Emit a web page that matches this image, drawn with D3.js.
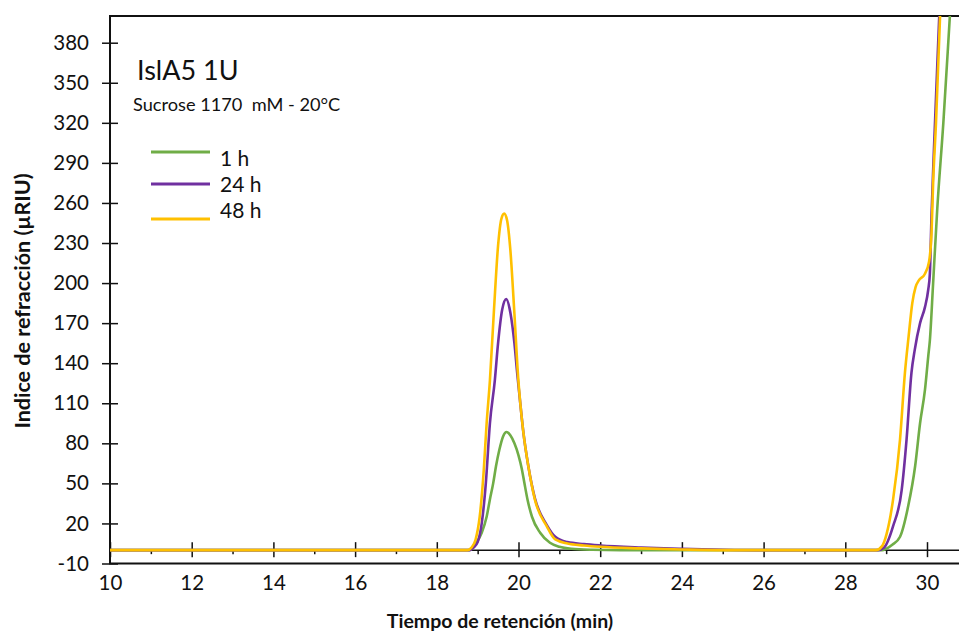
<!DOCTYPE html>
<html lang="es">
  <head>
    <meta charset="utf-8" />
    <title>IslA5 1U</title>
    <style>
      body {
        margin: 0;
        background: #fff;
      }
      svg text {
        font-family: Lato, "Open Sans", sans-serif;
        fill: #111;
      }
      .axis text {
        font-size: 20.5px;
      }
    </style>
    <script src="https://d3js.org/d3.v7.min.js"></script>
  </head>

  <body>
    <svg width="959" height="633"></svg>

    <script>
      // tick values
      var xMajor = [10, 12, 14, 16, 18, 20, 22, 24, 26, 28, 30];
      var xMinor = [11, 13, 15, 17, 19, 21, 23, 25, 27, 29];
      var yTicks = [-10, 20, 50, 80, 110, 140, 170, 200, 230, 260, 290, 320, 350, 380];

      // chromatogram points [retention time (min), signal (µRIU)]
      var green1h = [
        [10, 0], [18.8, 0], [18.97, 5.5], [19.1, 13], [19.22, 25], [19.3, 38],
        [19.38, 50], [19.45, 63], [19.53, 75], [19.62, 85], [19.71, 88.5],
        [19.8, 86], [19.9, 80], [20.0, 71], [20.08, 61], [20.14, 51],
        [20.22, 38], [20.33, 25], [20.53, 13], [20.77, 5.5], [21.0, 2.5],
        [21.3, 1], [21.8, 0.3], [22.5, 0], [28.9, 0], [29.0, 1], [29.15, 4],
        [29.34, 10], [29.54, 33], [29.71, 63], [29.83, 95], [29.95, 120],
        [30.03, 145], [30.07, 157], [30.15, 200], [30.25, 255], [30.4, 320],
        [30.56, 400], [30.7, 470]
      ];
      var purple24h = [
        [10, 0], [18.8, 0], [18.9, 2], [19.0, 6], [19.1, 20], [19.2, 50],
        [19.3, 95], [19.42, 127], [19.5, 155], [19.6, 180], [19.7, 188],
        [19.8, 178], [19.9, 155], [19.97, 132], [20.05, 108], [20.12, 88],
        [20.24, 63], [20.4, 39], [20.69, 19], [20.9, 10], [21.2, 6],
        [21.6, 4.5], [22, 3.5], [23, 2], [24, 1], [25, 0.3], [26, 0],
        [28.8, 0], [28.95, 2], [29.17, 18], [29.38, 45], [29.5, 83],
        [29.62, 133], [29.7, 150], [29.83, 170], [29.95, 182], [30.03, 195],
        [30.07, 207], [30.11, 250], [30.17, 300], [30.3, 400], [30.4, 480]
      ];
      var orange48h = [
        [10, 0], [18.75, 0], [18.85, 2], [18.95, 8], [19.05, 25], [19.15, 60],
        [19.22, 95], [19.3, 127], [19.4, 180], [19.5, 228], [19.58, 248],
        [19.65, 252], [19.72, 247], [19.8, 225], [19.9, 177], [19.99, 130],
        [20.05, 108], [20.12, 88], [20.24, 63], [20.4, 38], [20.69, 18],
        [20.9, 8], [21.2, 5], [21.6, 3.5], [22, 2.5], [23, 1.3], [24, 0.5],
        [25, 0], [28.75, 0], [28.9, 3], [29.01, 12], [29.17, 38], [29.34, 83],
        [29.46, 133], [29.55, 160], [29.64, 185], [29.72, 197], [29.8, 202],
        [29.95, 207], [30.05, 216], [30.11, 237], [30.15, 275], [30.22, 320],
        [30.32, 400], [30.4, 470]
      ];

      var legendNames = ["1 h", "24 h", "48 h"];
      var seriesColors = ["#70ad47", "#7030a0", "#ffc000"];

      var svg = d3.select("svg"),
        width = +svg.attr("width"),
        height = +svg.attr("height");

      var x = d3.scaleLinear().domain([10, 30]).range([110, 927]);
      var y = d3.scaleLinear().domain([-10, 400]).range([563.5, 16]);

      var plotLeft = x(10),
        plotTop = y(400),
        plotBottom = y(-10);

      // clip so the big sucrose peak runs off the top and right
      svg
        .append("clipPath")
        .attr("id", "plot")
        .append("rect")
        .attr("x", plotLeft)
        .attr("y", plotTop)
        .attr("width", width - plotLeft)
        .attr("height", plotBottom - plotTop);

      // x axis sits on the zero line
      var zero = y(0);
      svg
        .append("line")
        .attr("x1", plotLeft)
        .attr("x2", width)
        .attr("y1", zero)
        .attr("y2", zero)
        .attr("stroke", "#111")
        .attr("stroke-width", 1.5);

      var xAxis = svg
        .append("g")
        .attr("class", "axis")
        .attr("transform", `translate(0,${zero})`)
        .call(d3.axisBottom(x).tickValues(xMajor).tickFormat((d) => String(d)));
      xAxis.select(".domain").remove();
      xAxis
        .selectAll(".tick line")
        .attr("y1", -8)
        .attr("y2", 7)
        .attr("stroke", "#111")
        .attr("stroke-width", 1.5);
      xAxis.selectAll(".tick text").attr("y", 40).attr("dy", null).attr("fill", "#111");

      var xMinorAxis = svg
        .append("g")
        .attr("transform", `translate(0,${zero})`)
        .call(d3.axisBottom(x).tickValues(xMinor).tickSize(4).tickFormat(""));
      xMinorAxis.select(".domain").remove();
      xMinorAxis.selectAll(".tick line").attr("stroke", "#111").attr("stroke-width", 1.5);

      var yAxis = svg
        .append("g")
        .attr("class", "axis")
        .attr("transform", `translate(${plotLeft},0)`)
        .call(d3.axisLeft(y).tickValues(yTicks).tickFormat((d) => String(d)));
      yAxis.select(".domain").remove();
      yAxis
        .selectAll(".tick line")
        .attr("x1", -8)
        .attr("x2", 8)
        .attr("stroke", "#111")
        .attr("stroke-width", 1.5);
      yAxis.selectAll(".tick text").attr("x", -21).attr("fill", "#111");

      // frame: left, top, bottom
      svg
        .append("path")
        .attr("d", `M${width},${plotTop}H${plotLeft}V${plotBottom}H${width}`)
        .attr("fill", "none")
        .attr("stroke", "#111")
        .attr("stroke-width", 2);

      var line = d3
        .line()
        .x((d) => x(d[0]))
        .y((d) => y(d[1]))
        .curve(d3.curveMonotoneX);

      svg
        .append("g")
        .attr("clip-path", "url(#plot)")
        .selectAll("path")
        .data([green1h, purple24h, orange48h])
        .enter()
        .append("path")
        .attr("d", line)
        .attr("fill", "none")
        .attr("stroke", (d, i) => seriesColors[i])
        .attr("stroke-width", 2.6)
        .attr("stroke-linejoin", "round");

      // titles
      svg
        .append("text")
        .attr("x", 137)
        .attr("y", 80)
        .attr("font-size", 27)
        .text("IslA5 1U");

      svg
        .append("text")
        .attr("x", 133)
        .attr("y", 111)
        .attr("font-size", 18.2)
        .text("Sucrose 1170\u00a0 mM - 20°C");

      // legend
      var legendLineY = [152, 184, 219];
      var legendTextY = [166, 192, 218];
      var legend = svg.append("g");
      legend
        .selectAll("line")
        .data(legendNames)
        .enter()
        .append("line")
        .attr("x1", 151)
        .attr("x2", 210)
        .attr("y1", (d, i) => legendLineY[i])
        .attr("y2", (d, i) => legendLineY[i])
        .attr("stroke", (d, i) => seriesColors[i])
        .attr("stroke-width", 3);
      legend
        .selectAll("text")
        .data(legendNames)
        .enter()
        .append("text")
        .attr("x", 220)
        .attr("y", (d, i) => legendTextY[i])
        .attr("font-size", 21)
        .text((d) => d);

      // axis titles
      svg
        .append("text")
        .attr("x", 500)
        .attr("y", 628)
        .attr("text-anchor", "middle")
        .attr("font-size", 19.5)
        .attr("font-weight", "bold")
        .text("Tiempo de retención (min)");

      svg
        .append("text")
        .attr("transform", "translate(30,301) rotate(-90)")
        .attr("text-anchor", "middle")
        .attr("font-size", 21.5)
        .attr("font-weight", "bold")
        .text("Indice de refracción (µRIU)");
    </script>
  </body>
</html>
